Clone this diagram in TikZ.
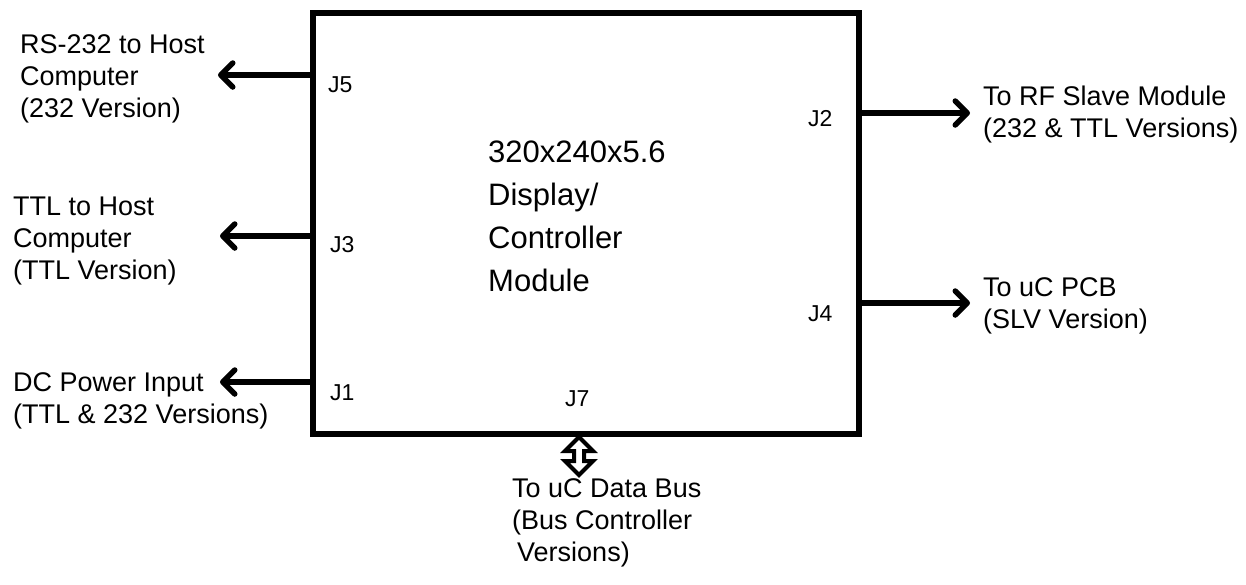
\documentclass[tikz,border=0pt]{standalone}
\usepackage{fontspec}
\setmainfont{Liberation Sans}
\usetikzlibrary{arrows.meta}
\begin{document}
\begin{tikzpicture}[x=1pt,y=-1pt,
  lbl/.style={inner sep=0pt, anchor=base west, align=left, font=\fontsize{27}{32}\selectfont},
  jlbl/.style={inner sep=0pt, anchor=base west, font=\fontsize{23}{27}\selectfont},
  title/.style={inner sep=0pt, anchor=base west, align=left, font=\fontsize{31}{43}\selectfont},
  conn/.style={line width=5.5pt, -{Straight Barb[length=12pt,width=24pt,line cap=round,line join=round]}},
  busarrow/.style={line width=4pt, fill=white, line join=miter},
  mainbox/.style={draw, line width=6pt, minimum width=546pt, minimum height=421pt, inner sep=0pt}
  ]
\useasboundingbox (0,0) rectangle (1246,584);
\node[mainbox] (main) at (586,223) {};
\node[title] (ttl) at (488,291) {320x240x5.6\\Display/\\Controller\\Module};

% left side
\node[lbl] (rs) at (20,117) {RS-232 to Host\\Computer\\(232 Version)};
\node[lbl] (ttlh) at (13,279) {TTL to Host\\Computer\\(TTL Version)};
\node[lbl] (dc) at (13,423) {DC Power Input\\(TTL \& 232 Versions)};
\node[jlbl] (j5) at (328,92) {J5};
\node[jlbl] (j3) at (330,252) {J3};
\node[jlbl] (j1) at (330,400) {J1};
\coordinate (t5) at (218,75);
\coordinate (t3) at (220,236);
\coordinate (t1) at (220,382);
\draw[conn] (main.west |- t5) -- (t5);
\draw[conn] (main.west |- t3) -- (t3);
\draw[conn] (main.west |- t1) -- (t1);

% right side
\node[lbl] (rf) at (983,137) {To RF Slave Module\\(232 \& TTL Versions)};
\node[lbl] (pcb) at (983,328) {To uC PCB\\(SLV Version)};
\node[jlbl] (j2) at (808,126) {J2};
\node[jlbl] (j4) at (808,321) {J4};
\coordinate (t2) at (970,113);
\coordinate (t4) at (970,303);
\draw[conn] (main.east |- t2) -- (t2);
\draw[conn] (main.east |- t4) -- (t4);

% bottom
\node[lbl] (bus) at (512,561) {To uC Data Bus\\(Bus Controller\\\hspace*{5pt}Versions)};
\node[jlbl] (j7) at (565,406) {J7};
\coordinate (bt) at (579,437);
\coordinate (bb) at (579,475);
\draw[busarrow] (bt) -- ++(14,14) -- ++(-9,0) -- ++(0,10) -- ++(9,0) -- (bb)
  -- ++(-14,-14) -- ++(9,0) -- ++(0,-10) -- ++(-9,0) -- cycle;
\end{tikzpicture}
\end{document}
